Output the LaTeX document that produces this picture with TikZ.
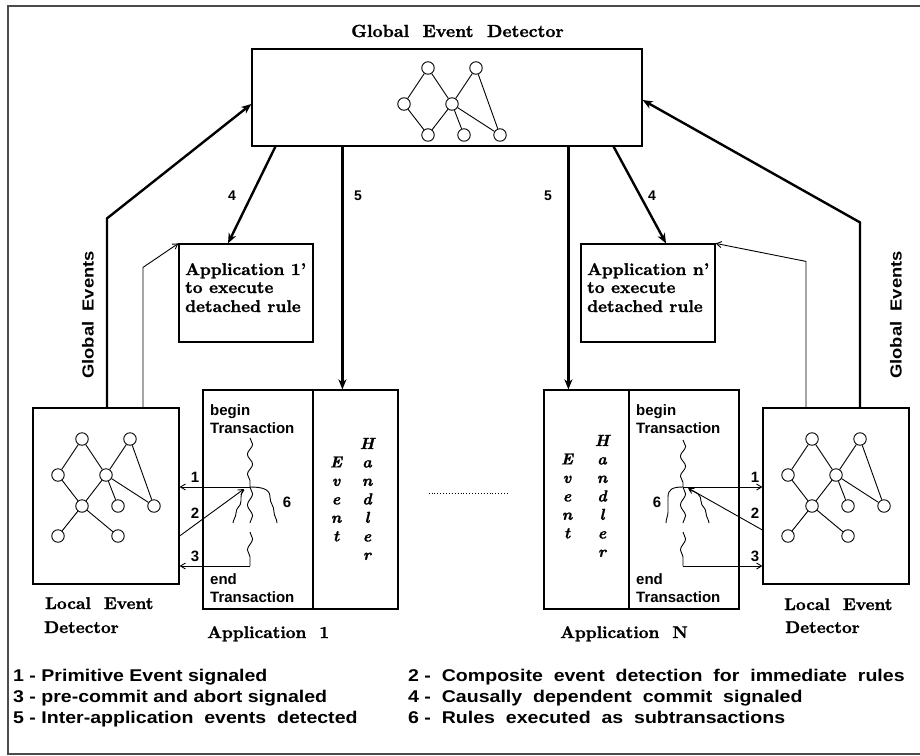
\documentclass[tikz,border=0pt]{standalone}
\usepackage{fontspec}
\newfontfamily\legendsans[FakeStretch=1.15]{Liberation Sans}
\newfontfamily\labelsans{Liberation Sans}
\newfontfamily\serifbold[FakeBold=1.3]{lmroman10-bold.otf}
\newfontfamily\serifbolditalic[FakeBold=1.3]{lmroman10-bolditalic.otf}
\usetikzlibrary{arrows.meta,calc,decorations.pathmorphing}
\hbadness=10000
\hfuzz=40pt

% the event graph shared by the global and the local detectors
\newcommand\eventnet{%
  \node[ev] (-tl) at (0,0) {};
  \node[ev] (-tr) at (48,0) {};
  \node[ev] (-ml) at (-24,36) {};
  \node[ev] (-mc) at (24,36) {};
  \node[ev] (-bl) at (0,67) {};
  \node[ev] (-bm) at (36,67) {};
  \node[ev] (-br) at (72,67) {};
  \draw[edge] (-tl) -- (-ml) (-tl) -- (-mc) (-tr) -- (-mc) (-tr) -- (-br)
    (-ml) -- (-bl) (-mc) -- (-bl) (-mc) -- (-bm) (-mc) -- (-br);
}

\tikzset{
  globalgraph/.pic={\eventnet},
  localgraph/.pic={\eventnet
    \node[ev] (-ll) at (-24,97) {};
    \node[ev] (-lr) at (36,97) {};
    \draw[edge] (-bl) -- (-ll) (-bl) -- (-lr);
  },
}

\begin{document}
\begin{tikzpicture}[x=1pt,y=-1pt,
  frame/.style={line width=1.8pt, black!70},
  box/.style={draw, line width=1.2pt, inner sep=0pt},
  ev/.style={draw, circle, line width=0.9pt, minimum size=12.5pt, inner sep=0pt},
  edge/.style={line width=0.9pt},
  thickarr/.style={line width=2.4pt, -{Stealth[length=10pt,width=8pt,inset=3pt]}},
  thinarr/.style={line width=0.9pt, -{Straight Barb[length=5pt,width=6pt]}},
  thinline/.style={line width=0.9pt},
  wig/.style={line width=0.9pt, decorate, decoration={snake, amplitude=2.6pt, segment length=20pt}},
  lbl/.style={inner sep=0pt},
  serifbig/.style={lbl, font=\serifbold\fontsize{17.5}{20}\selectfont},
  serifmid/.style={lbl, font=\serifbold\fontsize{17}{20}\selectfont},
  vert/.style={lbl, align=center, font=\serifbolditalic\fontsize{16}{18.5}\selectfont},
  sanslbl/.style={lbl, font=\labelsans\fontsize{15}{18}\selectfont\bfseries},
  numlbl/.style={lbl, font=\labelsans\fontsize{14}{17}\selectfont\bfseries},
  sidelbl/.style={lbl, rotate=90, font=\legendsans\fontsize{16}{18}\selectfont\bfseries},
  legend/.style={lbl, anchor=base west, font=\legendsans\fontsize{17}{20}\selectfont\bfseries},
]
\useasboundingbox (0,0) rectangle (920,755);

% outer frame
\draw[frame] (935,6) -- (8,6) -- (8,754) -- (935,754);

% ---------- boxes ----------
\node[box, minimum width=390pt, minimum height=97pt] (ged) at (447,97.5) {};
\node[box, minimum width=146pt, minimum height=176pt] (led1) at (106,496) {};
\node[box, minimum width=146pt, minimum height=176pt] (ledn) at (836,496) {};
\node[box, minimum width=134pt, minimum height=98pt] (app1r) at (246,293) {};
\node[box, minimum width=134pt, minimum height=98pt] (appnr) at (648,293) {};
\node[box, minimum width=110pt, minimum height=219pt] (app1t) at (258,499.5) {};
\node[box, minimum width=85pt, minimum height=219pt] (app1h) at (355.5,499.5) {};
\node[box, minimum width=85pt, minimum height=219pt] (appnh) at (586.5,499.5) {};
\node[box, minimum width=110pt, minimum height=219pt] (appnt) at (684,499.5) {};

% ---------- event graphs ----------
\pic (g) at (428,68) {globalgraph};
\pic (l1) at (82,439) {localgraph};
\pic (ln) at (812,439) {localgraph};

% ---------- titles ----------
\node[serifbig, anchor=base] (gedname) at (457.5,37) {Global\ \ Event\ \ Detector};
\node[serifmid, anchor=base west] (led1a) at (45,609) {Local\ \ Event};
\node[serifmid, anchor=base west] (led1b) at (44,633) {Detector};
\node[serifmid, anchor=base west] (ledna) at (784,610) {Local\ \ Event};
\node[serifmid, anchor=base west] (lednb) at (785,633) {Detector};
\node[serifmid, anchor=base west] (app1name) at (207,638) {Application\ \ 1};
\node[serifmid, anchor=base west] (appnname) at (560,638) {Application\ \ N};

\node[serifmid, anchor=base west] (r1a) at (185,275) {Application 1’};
\node[serifmid, anchor=base west] (r1b) at (185,293) {to execute};
\node[serifmid, anchor=base west] (r1c) at (185,312) {detached rule};
\node[serifmid, anchor=base west] (rna) at (587,275) {Application n’};
\node[serifmid, anchor=base west] (rnb) at (587,293) {to execute};
\node[serifmid, anchor=base west] (rnc) at (587,312) {detached rule};

% ---------- application 1 ----------
\node[sanslbl, anchor=base west] (b1a) at (210,415) {begin};
\node[sanslbl, anchor=base west] (b1b) at (210,433) {Transaction};
\node[sanslbl, anchor=base west] (e1a) at (210,584) {end};
\node[sanslbl, anchor=base west] (e1b) at (210,602) {Transaction};
\node[vert] (ev1) at (336,499) {E\\v\\e\\n\\t};
\node[vert] (hd1) at (367,499) {H\\a\\n\\d\\l\\e\\r};

% ---------- application N ----------
\node[sanslbl, anchor=base west] (bna) at (636,415) {begin};
\node[sanslbl, anchor=base west] (bnb) at (636,433) {Transaction};
\node[sanslbl, anchor=base west] (ena) at (636,584) {end};
\node[sanslbl, anchor=base west] (enb) at (636,602) {Transaction};
\node[vert] (evn) at (567,496) {E\\v\\e\\n\\t};
\node[vert] (hdn) at (602,496) {H\\a\\n\\d\\l\\e\\r};

% ---------- global events ----------
\draw[thickarr] ($(led1.north)+(1,0)$) -- +(0,-189) -- ($(ged.west)+(0,6.5)$);
\draw[thickarr] ($(ledn.north)+(24,0)$) -- +(0,-185) -- ($(ged.east)+(0,2.5)$);
\node[sidelbl] (gel) at (88,315) {Global\ \ Events};
\node[sidelbl] (ger) at (896,315) {Global\ \ Events};

% detached-rule notifications
\draw[thinarr] ($(led1.north)+(37,0)$) -- +(0,-140) -- (app1r.north west);
\draw[thinarr] ($(ledn.north)+(-30,0)$) -- +(0,-146) -- (appnr.north east);

% 4: causally dependent commit, 5: inter-application events
\draw[thickarr] ($(ged.south west)+(24,0)$) -- ($(app1r.north)+(-18,0)$);
\draw[thickarr] ($(ged.south east)+(-29,0)$) -- ($(appnr.north)+(18,0)$);
\draw[thickarr] ($(ged.south west)+(91,0)$) -- ($(app1h.north west)+(30,0)$);
\draw[thickarr] ($(ged.south west)+(317,0)$) -- ($(appnh.north west)+(25,0)$);
\node[numlbl] (n4l) at (232,196) {4};
\node[numlbl] (n5l) at (358,196) {5};
\node[numlbl] (n5r) at (548,196) {5};
\node[numlbl] (n4r) at (652,196) {4};

% ---------- transaction of application 1 ----------
\coordinate (j1) at (250,487);
\coordinate (x1) at (250,566);
\draw[wig] ($(j1)+(0,-49)$) -- (j1);
\draw[wig, decoration={segment length=22pt}] (j1) -- +(0,36);
\draw[wig, decoration={segment length=22pt}] ($(x1)+(0,-34)$) -- (x1);
\draw[thinline] (j1) .. controls +(12,0) and +(0,-8) .. ($(j1)+(20,10)$)
  .. controls +(0,7) and +(0,-7) .. ($(j1)+(24,25)$)
  .. controls +(0,4) and +(0,-4) .. ($(j1)+(27,36)$);
\draw[thinline] ($(j1)+(-6,3)$) .. controls +(-3,3) and +(0,-6) .. ($(j1)+(-9,14)$)
  .. controls +(0,6) and +(0,-6) .. ($(j1)+(-14,26)$)
  .. controls +(0,4) and +(0,-3) .. ($(j1)+(-17,36)$);
\draw[thinarr] (j1) -- (led1.east |- j1);
\draw[thinarr] ($(led1.east)+(0,40)$) -- ($(j1)+(-6,2)$);
\draw[thinarr] (x1) -- (led1.east |- x1);
\node[sanslbl] (t11) at (195,477) {1};
\node[sanslbl] (t12) at (195,513) {2};
\node[sanslbl] (t13) at (195,556) {3};
\node[sanslbl] (t16) at (287,502) {6};

% ---------- transaction of application N ----------
\coordinate (jn) at (683,487);
\coordinate (xn) at (683,566);
\draw[wig] ($(jn)+(0,-47)$) -- (jn);
\draw[wig, decoration={segment length=22pt}] (jn) -- +(0,36);
\draw[wig, decoration={segment length=22pt}] ($(xn)+(0,-34)$) -- (xn);
\draw[thinline] (jn) .. controls +(-10,0) and +(0,-8) .. ($(jn)+(-15,10)$)
  .. controls +(0,7) and +(0,-7) .. ($(jn)+(-15,25)$)
  .. controls +(0,4) and +(0,-4) .. ($(jn)+(-17,36)$);
\draw[thinline] ($(jn)+(6,3)$) .. controls +(8,2) and +(0,-6) .. ($(jn)+(18,14)$)
  .. controls +(0,6) and +(0,-6) .. ($(jn)+(23,26)$)
  .. controls +(0,4) and +(0,-3) .. ($(jn)+(26,36)$);
\draw[thinarr] (jn) -- (ledn.west |- jn);
\draw[thinarr] ($(ledn.west)+(0,34)$) -- ($(jn)+(5,1)$);
\draw[thinarr] (xn) -- (ledn.west |- xn);
\node[sanslbl] (tn1) at (755,477) {1};
\node[sanslbl] (tn2) at (755,513) {2};
\node[sanslbl] (tn3) at (755,556) {3};
\node[sanslbl] (tn6) at (657,502) {6};

% further applications in between
\draw[dotted, line width=0.9pt] ($(app1h.east)+(30,-6.5)$) -- ($(appnh.west)+(-36,-6.5)$);

% ---------- legend ----------
\node[legend] (lg1) at (13,681) {1 - Primitive Event signaled};
\node[legend] (lg3) at (13,702) {3 - pre-commit and abort signaled};
\node[legend] (lg5) at (13,723) {5 - Inter-application\ \ events\ \ detected};
\node[legend] (lg2) at (408,681) {2 -\ \ Composite\ \ event\ \ detection\ \ for\ \ immediate\ \ rules};
\node[legend] (lg4) at (408,702) {4 -\ \ Causally\ \ dependent\ \ commit\ \ signaled};
\node[legend] (lg6) at (408,723) {6 -\ \ Rules\ \ executed\ \ as\ \ subtransactions};
\end{tikzpicture}
\end{document}
